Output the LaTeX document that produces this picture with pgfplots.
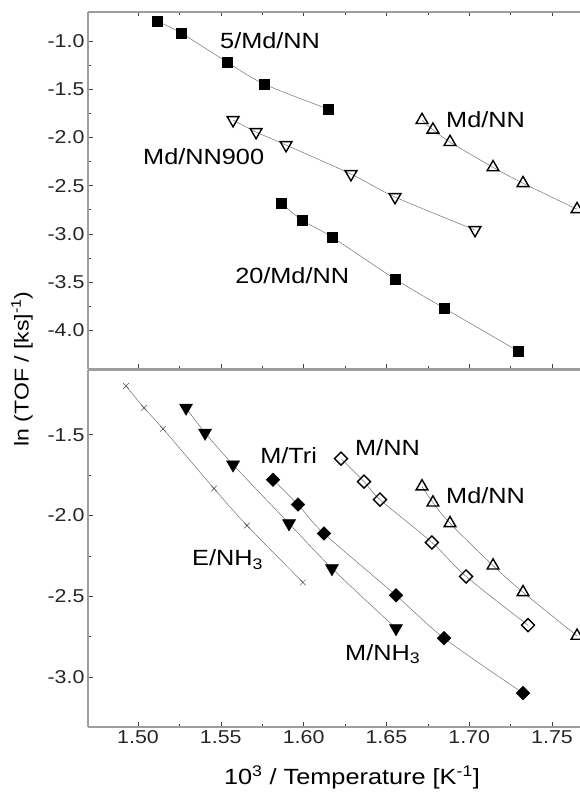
\documentclass[border=0pt]{standalone}
\usepackage{fontspec}
\setmainfont{Liberation Sans}[FakeStretch=1.15]
\usepackage{pgfplots}
\pgfplotsset{compat=1.18}

\tikzset{lab/.style={anchor=base west, inner sep=0pt, font=\fontsize{22}{24}\selectfont}}
\pgfplotsset{
  panel/.style={
    scale only axis, width=492pt, height=357pt,
    xmin=1.4698, xmax=1.7669,
    axis x line*=box, axis y line*=left,
    axis line style={-, black!38, line width=1.3pt},
    tick align=inside,
    tick style={black!75, line width=0.6pt},
    major tick length=4.5pt, minor tick length=3pt,
    xtick={1.50,1.55,1.60,1.65,1.70,1.75},
    minor x tick num=1, minor y tick num=1,
    ytick pos=left,
    /pgf/number format/assume math mode=true,
    tick label style={font=\fontsize{18.6}{20}\selectfont, black!85},
    xticklabel style={/pgf/number format/.cd, fixed, fixed zerofill, precision=2},
    yticklabel style={/pgf/number format/.cd, fixed, fixed zerofill, precision=1},
  },
  ln/.style={smooth, draw=black!55, line width=0.5pt},
  sqf/.style={ln, mark=square*, mark size=5pt, mark options={draw=black, fill=black, line width=0.5pt}},
  tro/.style={ln, mark=triangle, mark size=6.8pt, mark options={draw=black, fill=white, line width=1.4pt}},
  trd/.style={ln, mark=triangle, mark size=6.8pt, mark options={draw=black, fill=white, line width=1.4pt, rotate=180}},
  trdf/.style={ln, mark=triangle*, mark size=7.5pt, mark options={draw=black, fill=black, line width=0.5pt, rotate=180}},
  dmf/.style={ln, mark=square*, mark size=4.8pt, mark options={draw=black, fill=black, line width=0.5pt, rotate=45}},
  dmo/.style={ln, mark=square, mark size=4.6pt, mark options={draw=black, fill=white, line width=1.4pt, rotate=45}},
  xm/.style={ln, mark=x, mark size=4pt, mark options={draw=black!70, line width=0.5pt}},
}

\begin{document}
\begin{tikzpicture}
\useasboundingbox (-88pt,-66pt) rectangle (492pt,727pt);

% ---------- top panel ----------
\begin{axis}[panel, at={(0pt,358pt)}, anchor=south west,
  ymin=-4.402, ymax=-0.699,
  ytick={-4.0,-3.5,-3.0,-2.5,-2.0,-1.5,-1.0},
  xtick pos=both, xticklabels=\empty]
\addplot[sqf] coordinates {(1.5115,-0.793) (1.526,-0.917) (1.5537,-1.218) (1.5761,-1.446) (1.6147,-1.705)};
\addplot[trd] coordinates {(1.5574,-1.82) (1.5713,-1.944) (1.5894,-2.079) (1.6286,-2.38) (1.6552,-2.618) (1.7035,-2.96)};
\addplot[sqf] coordinates {(1.5864,-2.68) (1.599,-2.857) (1.6171,-3.033) (1.6552,-3.469) (1.6848,-3.77) (1.7295,-4.216)};
\addplot[tro] coordinates {(1.6715,-1.82) (1.6781,-1.92) (1.6884,-2.048) (1.7144,-2.31) (1.7325,-2.475) (1.7651,-2.745)};
\node[lab] at (axis cs:1.5495,-1.073) {5/Md/NN};
\node[lab] at (axis cs:1.5030,-2.286) {Md/NN900};
\node[lab] at (axis cs:1.6860,-1.902) {Md/NN};
\node[lab] at (axis cs:1.5586,-3.510) {20/Md/NN};
\end{axis}

% ---------- bottom panel ----------
\begin{axis}[panel, at={(0pt,0pt)}, anchor=south west,
  ymin=-3.309, ymax=-1.099,
  ytick={-3.0,-2.5,-2.0,-1.5},
  xtick pos=left]
\addplot[tro] coordinates {(1.6715,-1.82) (1.6781,-1.92) (1.6884,-2.048) (1.7144,-2.31) (1.7325,-2.475) (1.7651,-2.745)};
\addplot[dmo] coordinates {(1.6226,-1.648) (1.6365,-1.79) (1.6461,-1.901) (1.6775,-2.167) (1.6981,-2.377) (1.7355,-2.679)};
\addplot[dmf] coordinates {(1.5815,-1.778) (1.5966,-1.932) (1.6123,-2.111) (1.6558,-2.494) (1.6848,-2.759) (1.7325,-3.099)};
\addplot[trdf] coordinates {(1.529,-1.333) (1.5405,-1.488) (1.5574,-1.685) (1.5912,-2.049) (1.6171,-2.327) (1.6558,-2.698)};
\addplot[xm] coordinates {(1.4928,-1.198) (1.5036,-1.333) (1.5151,-1.463) (1.5459,-1.833) (1.5658,-2.062) (1.5996,-2.414)};
\node[lab] at (axis cs:1.5737,-1.679) {M/Tri};
\node[lab] at (axis cs:1.6310,-1.630) {M/NN};
\node[lab] at (axis cs:1.6860,-1.926) {Md/NN};
\node[lab] at (axis cs:1.5326,-2.309) {E/NH\textsubscript{3}};
\node[lab] at (axis cs:1.6250,-2.895) {M/NH\textsubscript{3}};
\end{axis}

% axis titles
\node[anchor=base, inner sep=0pt, font=\fontsize{22}{24}\selectfont] at (264pt,-57pt)
  {10\textsuperscript{3} / Temperature [K\textsuperscript{-1}]};
\node[rotate=90, inner sep=0pt, font=\fontsize{20}{22}\selectfont] at (-66pt,358pt)
  {ln (TOF / [ks]\textsuperscript{-1})};
\end{tikzpicture}
\end{document}
